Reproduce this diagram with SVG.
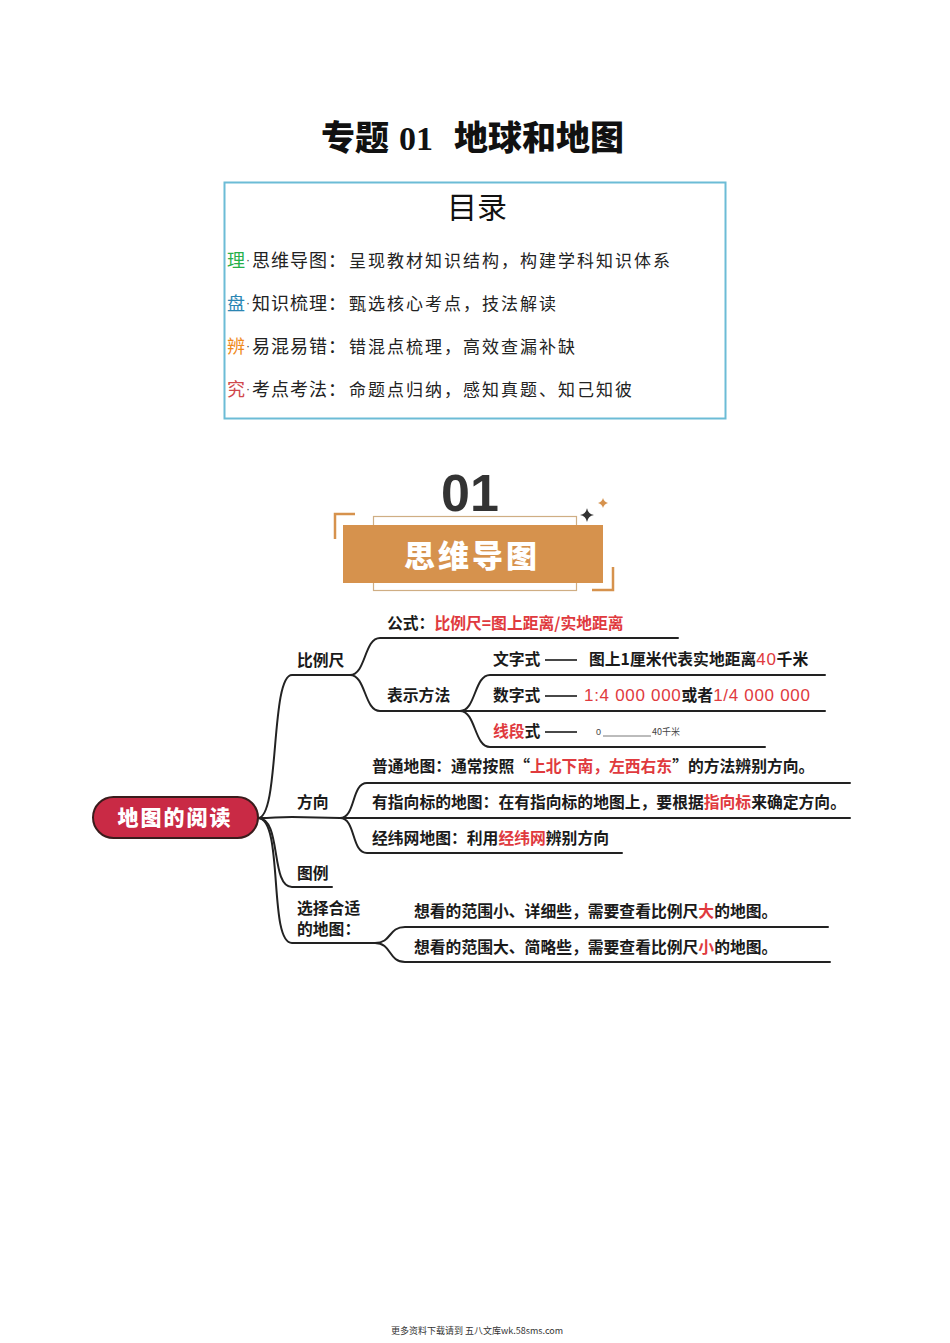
<svg xmlns="http://www.w3.org/2000/svg" width="950" height="1343" viewBox="0 0 950 1343">
<style>
.cjk{font-family:"Noto Sans CJK SC","Noto Sans",sans-serif}
.toc{font-family:"Noto Sans CJK SC",sans-serif;font-size:18px;fill:#222;letter-spacing:1px}
.dot{font-family:"Liberation Sans",Arial,sans-serif;font-size:12px;fill:#444;letter-spacing:0}
.mm{font-family:"Noto Sans CJK SC",sans-serif;font-size:15.8px;font-weight:700;fill:#1a1a1a}
.red{fill:#e03a3e}
.num{font-family:"Liberation Sans",Arial,sans-serif;font-weight:400;font-size:17px;letter-spacing:0.7px}
.ln{fill:none;stroke:#222;stroke-width:2;stroke-linecap:round}
</style>
<rect width="950" height="1343" fill="#fff"/>
<g id="title">
<text y="150" class="cjk" font-size="34" font-weight="900" fill="#111"><tspan x="321">专题</tspan><tspan x="399" font-family="Liberation Serif,serif" font-weight="700">01</tspan><tspan x="454">地球和地图</tspan></text>
</g>
<g id="toc">
<rect x="224.5" y="182.5" width="501" height="236" fill="none" stroke="#6cbcd6" stroke-width="2"/>
<text x="477" y="218" text-anchor="middle" class="cjk" font-size="30" fill="#111">目录</text>
<g class="toc">
<text x="227" y="267" fill="#27b04a">理</text><text x="246" y="264" class="dot">·</text>
<text x="252" y="267">思维导图：</text><text x="349" y="267" letter-spacing="2" font-size="17">呈现教材知识结构，构建学科知识体系</text>
<text x="227" y="310" fill="#2b86b3">盘</text><text x="246" y="307" class="dot">·</text>
<text x="252" y="310">知识梳理：</text><text x="349" y="310" letter-spacing="2" font-size="17">甄选核心考点，技法解读</text>
<text x="227" y="353" fill="#f08a1c">辨</text><text x="246" y="350" class="dot">·</text>
<text x="252" y="353">易混易错：</text><text x="349" y="353" letter-spacing="2" font-size="17">错混点梳理，高效查漏补缺</text>
<text x="227" y="396" fill="#d0484c">究</text><text x="246" y="393" class="dot">·</text>
<text x="252" y="396">考点考法：</text><text x="349" y="396" letter-spacing="2" font-size="17">命题点归纳，感知真题、知己知彼</text>
</g>
</g>
<g id="section-header">
<text x="470" y="511" text-anchor="middle" font-family="Liberation Sans,Arial,sans-serif" font-size="52" font-weight="700" fill="#333">01</text>
<rect x="373.5" y="516.5" width="203" height="74" fill="none" stroke="#cfae84" stroke-width="1.2"/>
<rect x="343" y="525" width="260" height="58" fill="#d6924d"/>
<text x="472" y="567" text-anchor="middle" class="cjk" font-size="31" font-weight="900" fill="#fff" letter-spacing="3">思维导图</text>
<path d="M355,514 H335 V539" fill="none" stroke="#d6924d" stroke-width="2.5"/>
<path d="M613,567 V590 H592" fill="none" stroke="#d6924d" stroke-width="2.5"/>
<path d="M587,508 Q588,514 594,515 Q588,516 587,522 Q586,516 580,515 Q586,514 587,508Z" fill="#333"/>
<path d="M603,498 Q604,502 608,503 Q604,504 603,508 Q602,504 598,503 Q602,502 603,498Z" fill="#d6924d"/>
</g>
<g id="connectors">
<path class="ln" d="M258,818 C280,818 270,675 292,675 L350,675"/>
<path class="ln" d="M258,818 C275,818 275,817 292,817 L340,818"/>
<path class="ln" d="M258,818 C282,818 270,887 292,887 L332,887"/>
<path class="ln" d="M258,818 C284,818 268,943 292,943 L375,943"/>
<path class="ln" d="M350,675 C366,675 364,638 380,638 L678,638"/>
<path class="ln" d="M350,675 C366,675 364,711 380,711 L460,711"/>
<path class="ln" d="M460,711 C476,711 474,675 490,675 L825,675"/>
<path class="ln" d="M460,711 L825,711"/>
<path class="ln" d="M460,711 C476,711 474,747 490,747 L765,747"/>
<path class="ln" d="M340,818 C356,818 351,783 367,783 L850,783"/>
<path class="ln" d="M340,818 L850,818"/>
<path class="ln" d="M340,818 C356,818 351,853 367,853 L622,853"/>
<path class="ln" d="M375,943 C392,943 388,927 405,927 L828,927"/>
<path class="ln" d="M375,943 C392,943 388,962 405,962 L830,962"/>
</g>
<g id="root">
<rect x="93" y="797" width="165" height="41" rx="20.5" fill="#c92a45" stroke="#3a1c1c" stroke-width="2"/>
<text x="175" y="825" text-anchor="middle" class="cjk" font-size="21" font-weight="900" fill="#fff" letter-spacing="2">地图的阅读</text>
</g>
<g id="node-scale">
<text x="297" y="666" class="mm">比例尺</text>
</g>
<g id="node-formula">
<text x="387" y="629" class="mm">公式：<tspan class="red">比例尺=图上距离/实地距离</tspan></text>
</g>
<g id="node-methods">
<text x="387" y="701" class="mm">表示方法</text>
</g>
<g id="node-text-form">
<text x="493" y="665" class="mm">文字式</text>
<line x1="545" y1="660" x2="577" y2="660" stroke="#1a1a1a" stroke-width="1.6"/>
<text x="589" y="665" class="mm">图上1厘米代表实地距离<tspan class="red num" letter-spacing="0">40</tspan>千米</text>
</g>
<g id="node-number-form">
<text x="493" y="701" class="mm">数字式</text>
<line x1="545" y1="696" x2="577" y2="696" stroke="#1a1a1a" stroke-width="1.6"/>
<text x="584" y="701" class="mm"><tspan class="red num">1:4 000 000</tspan>或者<tspan class="red num">1/4 000 000</tspan></text>
</g>
<g id="node-line-form">
<text x="493" y="737" class="mm"><tspan class="red">线段</tspan>式</text>
<line x1="545" y1="732" x2="577" y2="732" stroke="#1a1a1a" stroke-width="1.6"/>
<text x="596" y="735" font-family="Liberation Sans,Arial,sans-serif" font-size="9" fill="#444">0</text>
<line x1="603" y1="736" x2="651" y2="736" stroke="#555" stroke-width="0.8"/>
<text x="652" y="735" class="cjk" font-size="9" fill="#444">40千米</text>
</g>
<g id="node-direction">
<text x="297" y="808" class="mm">方向</text>
</g>
<g id="node-dir-normal">
<text x="372" y="772" class="mm">普通地图：通常按照“<tspan class="red">上北下南，左西右东</tspan>”的方法辨别方向。</text>
</g>
<g id="node-dir-arrow">
<text x="372" y="808" class="mm">有指向标的地图：在有指向标的地图上，要根据<tspan class="red">指向标</tspan>来确定方向。</text>
</g>
<g id="node-dir-grid">
<text x="372" y="844" class="mm">经纬网地图：利用<tspan class="red">经纬网</tspan>辨别方向</text>
</g>
<g id="node-legend">
<text x="297" y="879" class="mm">图例</text>
</g>
<g id="node-choose">
<text x="297" y="914" class="mm">选择合适</text>
<text x="297" y="935" class="mm">的地图：</text>
</g>
<g id="node-choose-small">
<text x="414" y="917" class="mm">想看的范围小、详细些，需要查看比例尺<tspan class="red">大</tspan>的地图。</text>
</g>
<g id="node-choose-large">
<text x="414" y="953" class="mm">想看的范围大、简略些，需要查看比例尺<tspan class="red">小</tspan>的地图。</text>
</g>
<g id="footer">
<text x="477" y="1334" text-anchor="middle" class="cjk" font-size="9" fill="#333">更多资料下载请到 五八文库wk.58sms.com</text>
</g>
</svg>
